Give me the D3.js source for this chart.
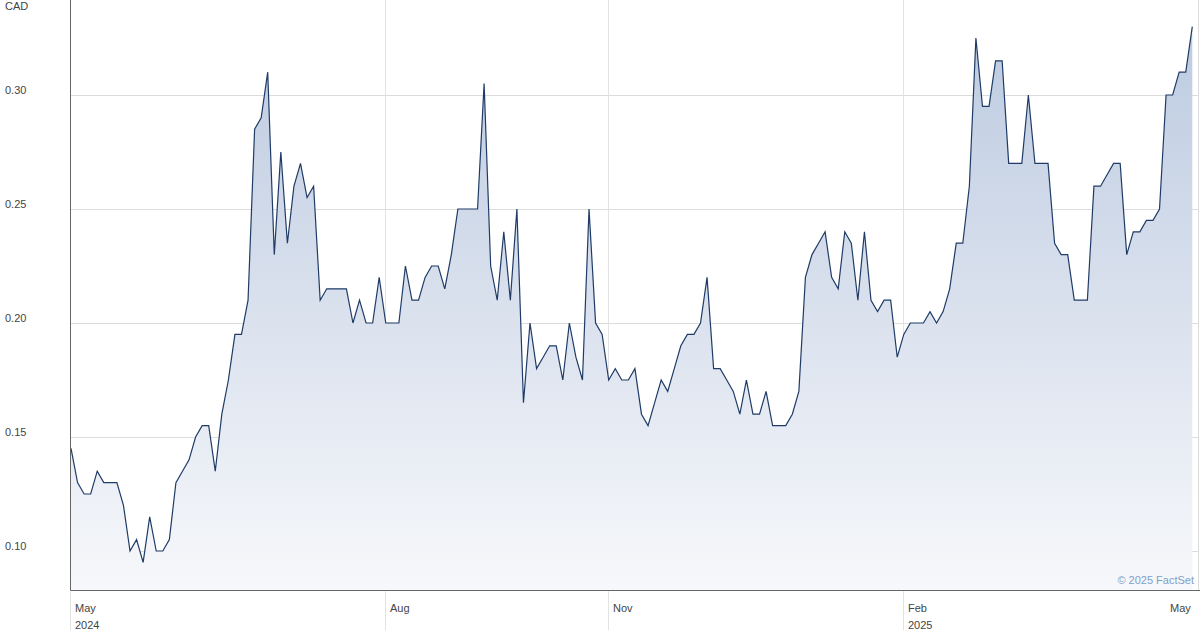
<!DOCTYPE html>
<html><head><meta charset="utf-8">
<script src="https://cdn.jsdelivr.net/npm/d3@7"></script>
<style>html,body{margin:0;padding:0;background:#fff;}svg{display:block;}</style>
</head><body>
<svg id="c" width="1200" height="630"></svg>
<script>
const prices = [
0.145,0.13,0.125,0.125,0.135,0.13,0.13,0.13,0.12,0.10,
0.105,0.095,0.115,0.10,0.10,0.105,0.13,0.135,0.14,0.15,
0.155,0.155,0.135,0.16,0.175,0.195,0.195,0.21,0.285,0.29,
0.31,0.23,0.275,0.235,0.26,0.27,0.255,0.26,0.21,0.215,
0.215,0.215,0.215,0.20,0.21,0.20,0.20,0.22,0.20,0.20,
0.20,0.225,0.21,0.21,0.22,0.225,0.225,0.215,0.23,0.25,
0.25,0.25,0.25,0.305,0.225,0.21,0.24,0.21,0.25,0.165,
0.20,0.18,0.185,0.19,0.19,0.175,0.20,0.185,0.175,0.25,
0.20,0.195,0.175,0.18,0.175,0.175,0.18,0.16,0.155,0.165,
0.175,0.17,0.18,0.19,0.195,0.195,0.20,0.22,0.18,0.18,
0.175,0.17,0.16,0.175,0.16,0.16,0.17,0.155,0.155,0.155,
0.16,0.17,0.22,0.23,0.235,0.24,0.22,0.215,0.24,0.235,
0.21,0.24,0.21,0.205,0.21,0.21,0.185,0.195,0.20,0.20,
0.20,0.205,0.20,0.205,0.215,0.235,0.235,0.26,0.325,0.295,
0.295,0.315,0.315,0.27,0.27,0.27,0.30,0.27,0.27,0.27,
0.235,0.23,0.23,0.21,0.21,0.21,0.26,0.26,0.265,0.27,
0.27,0.23,0.24,0.24,0.245,0.245,0.25,0.30,0.30,0.31,
0.31,0.33
];
const tickIndex = [0, 48, 82, 127, 167];
const tickMonth = ["May", "Aug", "Nov", "Feb", "May"];
const tickYear  = ["2024", "", "", "2025", ""];
const tickGrid  = [true, true, true, true, false];
const yTicks = [0.10, 0.15, 0.20, 0.25, 0.30];
const yLabels = ["0.10", "0.15", "0.20", "0.25", "0.30"];
const currency = "CAD";
const credit = "\u00A9 2025 FactSet";

const svg = d3.select("#c");
const L = 70.5, R = 1198.5, T = 0, B = 590.5;
const x = d3.scaleLinear().domain([0, prices.length - 1]).range([71, 1192.3]);
const y = d3.scaleLinear().domain([0.10, 0.30]).range([551, 95]);
const font = "'Liberation Sans', Arial, sans-serif";

const defs = svg.append("defs");
const g = defs.append("linearGradient").attr("id", "fillg")
  .attr("gradientUnits", "userSpaceOnUse").attr("x1", 0).attr("y1", 20).attr("x2", 0).attr("y2", B);
g.append("stop").attr("offset", 0).attr("stop-color", "#bccae0");
g.append("stop").attr("offset", 1).attr("stop-color", "#f7f8fb");

// horizontal grid
svg.append("g").selectAll("line").data(yTicks).join("line")
  .attr("x1", L).attr("x2", R)
  .attr("y1", d => Math.round(y(d)) + 0.5).attr("y2", d => Math.round(y(d)) + 0.5)
  .attr("stroke", "#dcdcdc").attr("stroke-width", 1);

// vertical grid
svg.append("g").selectAll("line").data(tickIndex.filter((d, i) => tickGrid[i])).join("line")
  .attr("x1", d => Math.round(x(d)) - 0.5).attr("x2", d => Math.round(x(d)) - 0.5)
  .attr("y1", T).attr("y2", 630)
  .attr("stroke", "#e3e3e3").attr("stroke-width", 1);

// right border
svg.append("line").attr("x1", R).attr("x2", R).attr("y1", T).attr("y2", B)
  .attr("stroke", "#dcdcdc");

// area
const area = d3.area().x((d, i) => x(i)).y0(B).y1(d => y(d));
svg.append("path").datum(prices).attr("d", area).attr("fill", "url(#fillg)");

// line
const line = d3.line().x((d, i) => x(i)).y(d => y(d));
svg.append("path").datum(prices).attr("d", line)
  .attr("fill", "none").attr("stroke", "#1f3b66").attr("stroke-width", 1.2)
  .attr("stroke-linejoin", "miter");

// axes lines
svg.append("line").attr("x1", L).attr("x2", L).attr("y1", T).attr("y2", B)
  .attr("stroke", "#666").attr("stroke-width", 1);
svg.append("line").attr("x1", L).attr("x2", 1200).attr("y1", B).attr("y2", B)
  .attr("stroke", "#666").attr("stroke-width", 1);

// y labels
svg.append("g").selectAll("text").data(yTicks).join("text")
  .attr("x", 5).attr("y", d => y(d) - 1)
  .attr("font-family", font).attr("font-size", 11).attr("fill", "#444")
  .text((d, i) => yLabels[i]);
svg.append("text").attr("x", 5).attr("y", 10)
  .attr("font-family", font).attr("font-size", 11).attr("fill", "#444").text(currency);

// x labels
const xl = svg.append("g");
xl.selectAll("text.m").data(tickIndex).join("text").attr("class", "m")
  .attr("x", d => Math.round(x(d)) + 4).attr("y", 612)
  .attr("font-family", font).attr("font-size", 11).attr("fill", "#444")
  .text((d, i) => tickMonth[i]);
xl.selectAll("text.y").data(tickIndex).join("text").attr("class", "y")
  .attr("x", d => Math.round(x(d)) + 4).attr("y", 629)
  .attr("font-family", font).attr("font-size", 11).attr("fill", "#444")
  .text((d, i) => tickYear[i]);

// credit
svg.append("text").attr("x", 1194).attr("y", 584).attr("text-anchor", "end")
  .attr("font-family", font).attr("font-size", 11).attr("fill", "#7f9fc8").text(credit);
</script>
</body></html>
